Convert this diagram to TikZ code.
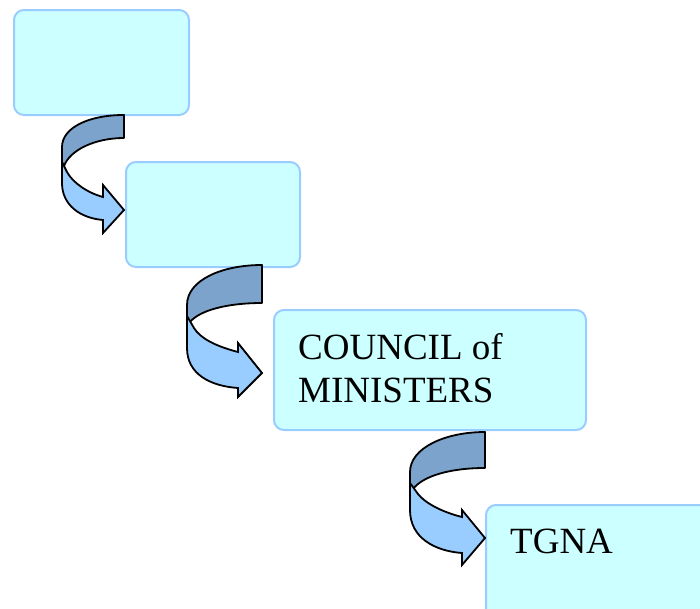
\documentclass[tikz,border=0pt]{standalone}
\usepackage{fontspec}
\setmainfont{Liberation Serif}
\definecolor{boxfill}{HTML}{CCFFFF}
\definecolor{boxline}{HTML}{99CCFF}
\definecolor{arrdark}{HTML}{7BA3CB}
\definecolor{arrlight}{HTML}{99CCFF}
\tikzset{
  orgbox/.style={draw=boxline, fill=boxfill, line width=2pt, rounded corners=10pt},
  backband/.style={draw=black, fill=arrdark, line width=1.8pt, line join=round},
  frontband/.style={draw=black, fill=arrlight, line width=1.8pt, line join=miter},
  boxtext/.style={font=\fontsize{37}{43}\selectfont, align=left, inner sep=0pt}
}
\begin{document}
\begin{tikzpicture}[x=1pt,y=-1pt]
\useasboundingbox (0,0) rectangle (700,608);
\clip (0,0) rectangle (700,608);
% boxes
\draw[orgbox] (14,10) rectangle (189,115);
\draw[orgbox] (126,162) rectangle (300,267);
\draw[orgbox] (274,310) rectangle (586,430);
\draw[orgbox] (486,505) rectangle (730,640);
\node[boxtext, anchor=base west] (t3) at (298,402) {COUNCIL of\\MINISTERS};
\node[boxtext, anchor=base west] (t4) at (510,553) {TGNA};
% arrow 1
\draw[backband] (124,115) .. controls (88,115) and (62,128) .. (62,147)
  -- (62,165) -- (64,166) .. controls (70,150) and (95,138) .. (124,138) -- cycle;
\draw[frontband] (62,162) -- (62,183) .. controls (62,205) and (80,218) .. (103,220)
  -- (103,233) -- (124,210) -- (103,185) -- (103,197)
  .. controls (88,193) and (73,183) .. (67,172) -- cycle;
% arrow 2
\draw[backband] (262,265) .. controls (222,265) and (187,280) .. (187,305)
  -- (187,318) -- (190,322) .. controls (200,310) and (228,303) .. (262,303) -- cycle;
\draw[frontband] (187,316) -- (187,348) .. controls (187,374) and (210,386) .. (238,388)
  -- (238,397) -- (262,373) -- (238,343) -- (238,352)
  .. controls (215,346) and (200,338) .. (194,328) -- cycle;
% arrow 3
\draw[backband] (485,432) .. controls (445,432) and (410,448) .. (410,472)
  -- (410,485) -- (413,489) .. controls (423,476) and (450,468) .. (485,468) -- cycle;
\draw[frontband] (410,483) -- (410,510) .. controls (410,538) and (435,551) .. (462,553)
  -- (462,565) -- (485,538) -- (462,510) -- (462,517)
  .. controls (442,512) and (425,503) .. (418,494) -- cycle;
\end{tikzpicture}
\end{document}
